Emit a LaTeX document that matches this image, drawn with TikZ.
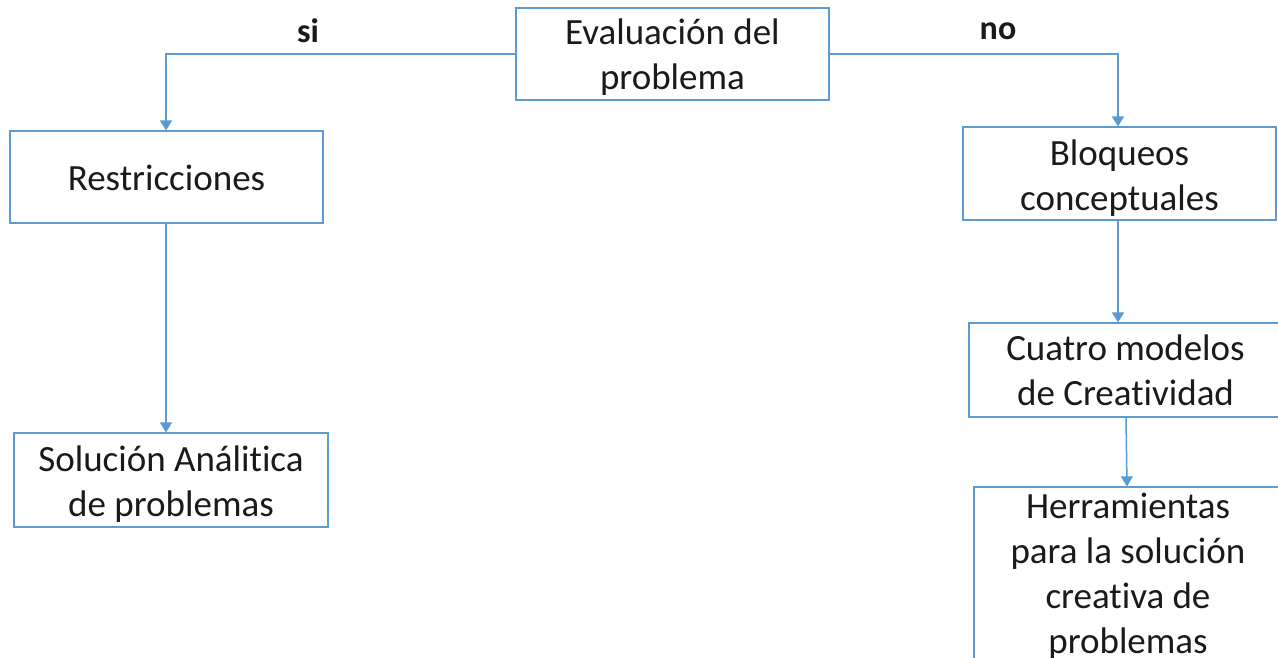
\documentclass[tikz,border=0pt]{standalone}
\usepackage{fontspec}
\setmainfont[Ligatures=NoCommon]{Carlito}
\usetikzlibrary{arrows.meta}
\definecolor{boxblue}{HTML}{5B9BD5}
\definecolor{txt}{HTML}{1A1A1A}
\tikzset{
  box/.style={draw=boxblue, line width=1.2pt, fill=white, inner sep=0pt},
  boxtext/.style={align=center, text=txt, font=\fontsize{37}{45}\selectfont, inner sep=0pt},
  conn/.style={draw=boxblue, line width=1.5pt, -{Triangle[width=12pt,length=10pt]}},
  lbl/.style={text=txt, font=\fontsize{34}{40}\selectfont\bfseries, inner sep=0pt}
}
\begin{document}
\begin{tikzpicture}[x=1pt,y=-1pt]
\useasboundingbox (0,0) rectangle (1278,657);
\clip (0,0) rectangle (1278,657);
\fill[white] (0,0) rectangle (1278,657);
\node[box, minimum width=313pt, minimum height=92pt] (eval) at (672.5,54) {};
\node[boxtext] (evalt) at ([yshift=-3pt]eval.center) {Evaluación del\\problema};
\node[box, minimum width=313pt, minimum height=92pt] (restr) at (166.5,177) {};
\node[boxtext] (restrt) at ([yshift=-1pt]restr.center) {Restricciones};
\node[box, minimum width=314pt, minimum height=94pt] (sol) at (171,480) {};
\node[boxtext] (solt) at ([yshift=-4pt]sol.center) {Solución Análitica\\de problemas};
\node[box, minimum width=313pt, minimum height=93pt] (bloq) at (1119.5,173.5) {};
\node[boxtext] (bloqt) at ([yshift=-4.5pt]bloq.center) {Bloqueos\\conceptuales};
\node[box, minimum width=313pt, minimum height=94pt] (cuatro) at (1125.5,370) {};
\node[boxtext] (cuatrot) at ([yshift=-0.5pt]cuatro.center) {Cuatro modelos\\de Creatividad};
\node[box, minimum width=313pt, minimum height=190pt] (herr) at (1130.5,582) {};
\node[boxtext] (herrt) at (1128,576) {Herramientas\\para la solución\\creativa de\\problemas};
\node[lbl] (si) at (308,31) {si};
\node[lbl] (no) at (998,31) {no};
\draw[conn] (eval.west) -| ([xshift=-0.5pt]restr.north);
\draw[conn, line width=1.8pt] (eval.east) -| ([xshift=-1.5pt]bloq.north);
\draw[conn] ([xshift=-1.5pt]bloq.south) -- ([xshift=-1.5pt]bloq.south |- cuatro.north);
\draw[conn] ([xshift=-0.5pt]restr.south) -- ([xshift=-0.5pt]restr.south |- sol.north);
\draw[conn] ([xshift=0.5pt]cuatro.south) -- ([xshift=1.5pt]cuatro.south |- herr.north);
\end{tikzpicture}
\end{document}
